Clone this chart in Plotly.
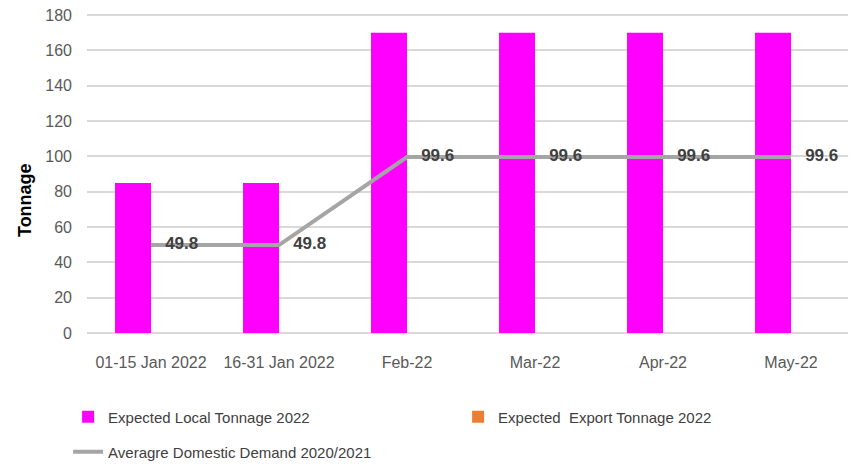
import plotly.graph_objects as go

categories = ["01-15 Jan 2022", "16-31 Jan 2022", "Feb-22", "Mar-22", "Apr-22", "May-22"]
local_tonnage = [85, 85, 170, 170, 170, 170]
export_tonnage = [0, 0, 0, 0, 0, 0]
avg_demand = [49.8, 49.8, 99.6, 99.6, 99.6, 99.6]
y_ticks = [0, 20, 40, 60, 80, 100, 120, 140, 160, 180]

FONT = "Liberation Sans, Arial, sans-serif"

fig = go.Figure()
fig.add_trace(go.Bar(
    x=categories, y=local_tonnage, name="Expected Local Tonnage 2022",
    marker=dict(color="#FF00FF", line=dict(width=0)), legend="legend",
))
fig.add_trace(go.Bar(
    x=categories, y=export_tonnage, name="Expected  Export Tonnage 2022",
    marker=dict(color="#ED7D31", line=dict(width=0)), legend="legend",
))
fig.add_trace(go.Scatter(
    x=categories, y=avg_demand, name="Averagre Domestic Demand 2020/2021",
    mode="lines+text", line=dict(color="#A5A5A5", width=4),
    texttemplate="   %{y:.1f}", textposition="middle right",
    textfont=dict(family=FONT, size=17, color="#404040", weight="bold"),
    legend="legend2", cliponaxis=False,
))

fig.update_layout(
    width=848, height=456,
    margin=dict(l=79, r=1, t=5, b=131, autoexpand=False),
    paper_bgcolor="white", plot_bgcolor="white",
    barmode="group", bargap=0.4375, bargroupgap=0,
    font=dict(family=FONT, size=15, color="#595959"),
    showlegend=True,
    legend=dict(
        orientation="h", x=-0.0246, xanchor="left", y=-0.2625, yanchor="middle",
        entrywidth=345, entrywidthmode="pixels",
        font=dict(family=FONT, size=15, color="#404040"),
        bgcolor="rgba(0,0,0,0)", itemclick=False,
    ),
    legend2=dict(
        orientation="h", x=-0.0246, xanchor="left", y=-0.372, yanchor="middle",
        font=dict(family=FONT, size=15, color="#404040"),
        bgcolor="rgba(0,0,0,0)", itemclick=False,
    ),
    annotations=[dict(
        text="<b>Tonnage</b>", xref="paper", yref="paper",
        x=-0.0807, y=0.4156, xanchor="center", yanchor="middle",
        textangle=-90, showarrow=False,
        font=dict(family=FONT, size=18, color="#000000"),
    )],
)
fig.update_xaxes(
    type="category", showgrid=False, showline=False, ticks="",
    ticklabelstandoff=18, automargin=False,
    tickfont=dict(family=FONT, size=16, color="#595959"),
)
fig.update_yaxes(
    range=[0, 181.2], tickvals=y_ticks, showgrid=True, gridcolor="#D9D9D9", gridwidth=1.5,
    zeroline=True, zerolinecolor="#D9D9D9", zerolinewidth=1.5, showline=False, ticks="",
    ticklabelstandoff=14, automargin=False, ticklabeloverflow="allow",
    tickfont=dict(family=FONT, size=16, color="#595959"),
)

fig.write_html("out.html")
